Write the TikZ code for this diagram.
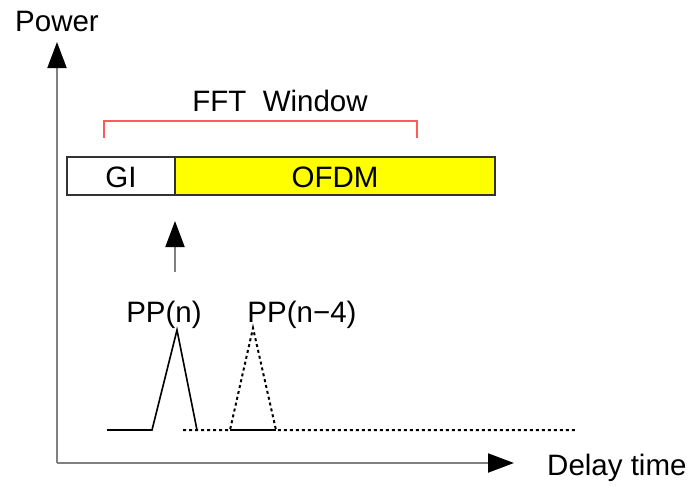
\documentclass[tikz,border=0pt]{standalone}
\usepackage{fontspec}
\setmainfont{Liberation Sans}
\usetikzlibrary{arrows.meta}
\definecolor{axisgray}{HTML}{808080}
\definecolor{winred}{HTML}{FF5A5A}
\definecolor{ofdmyellow}{HTML}{FFFF00}
\tikzset{
  lbl/.style={font=\fontsize{29.5}{31}\selectfont, inner sep=0pt},
  bigtip/.style={-{Triangle[length=26pt,width=19pt,black]}},
  axis/.style={draw=axisgray, line width=2pt, bigtip},
  pulse/.style={line width=1.6pt, black},
  echo/.style={line width=2pt, black, dash pattern=on 3pt off 3pt},
  block/.style={draw=black!80, line width=1.5pt, minimum height=38pt, inner sep=0pt, outer sep=0pt},
}
\begin{document}
\begin{tikzpicture}[x=1pt, y=-1pt]
\useasboundingbox (0,0) rectangle (696,485);

% axes
\coordinate (origin) at (57,463);
\coordinate (ytip) at (57,42);
\coordinate (xtip) at (514,463);
\draw[axis] (origin) -- (ytip);
\draw[axis] (origin) -- (xtip);
\node[lbl] (power) at (57,21) {Power};
\node[lbl, anchor=west] (delay) at (547,468) {Delay time};

% FFT window bracket
\node[lbl] (fftlabel) at (280,101) {FFT\ \ Window};
\coordinate (wl) at (104,138);
\coordinate (wr) at (417,138);
\draw[winred, line width=1.5pt] (wl) -- (104,121) -- (417,121) -- (wr);

% guard interval and OFDM symbol
\node[block, fill=white, minimum width=108pt, anchor=west] (gi) at (67,176) {};
\node[block, fill=ofdmyellow, minimum width=320pt, anchor=west] (ofdm) at (gi.east) {};
\node[lbl] at (121,177) {GI};
\node[lbl] at (335,177) {OFDM};

% timing arrow to the GI/OFDM boundary
\coordinate (tstart) at (175,272);
\coordinate (tend) at (175,221);
\draw[axis] (tstart) -- (tend);

% preamble pulse PP(n)
\node[lbl] (ppn) at (164,315) {PP(n)};
\coordinate (p0) at (107,430);
\coordinate (p1) at (152,430);
\coordinate (p2) at (177,330);
\coordinate (p3) at (197,430);
\draw[pulse] (p0) -- (p1) -- (p2) -- (p3);

% delayed pulse PP(n-4)
\node[lbl] (ppn4) at (302,315) {PP(n−4)};
\coordinate (q0) at (183,430);
\coordinate (q1) at (230,430);
\coordinate (q2) at (253,328);
\coordinate (q3) at (276,430);
\coordinate (q4) at (576,430);
\draw[pulse] (q1) -- (q3);
\draw[echo] (q0) -- (q1) -- (q2) -- (q3) -- (q4);
\end{tikzpicture}
\end{document}
